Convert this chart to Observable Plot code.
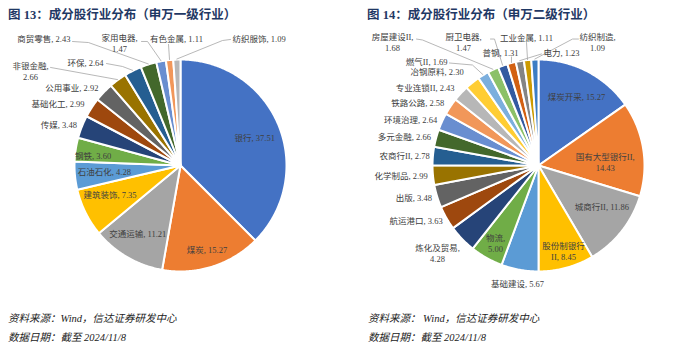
<!DOCTYPE html>
<html><head><meta charset="utf-8">
<script src="https://cdn.jsdelivr.net/npm/d3@7"></script>
<script src="https://cdn.jsdelivr.net/npm/@observablehq/plot@0.6"></script>
<style>
body{margin:0;background:#fff;width:700px;height:351px;overflow:hidden;font-family:"Liberation Serif","Noto Sans CJK SC",serif;}
#wrap{position:relative;width:700px;height:351px;}
.panel{position:absolute;top:0;width:350px;height:351px;}
.title{position:absolute;top:6px;line-height:18px;font-size:12.5px;font-weight:bold;color:#1f3864;white-space:nowrap;}
.chart{position:absolute;left:0;top:28px;}
.foot{position:absolute;line-height:18px;font-size:10.5px;font-style:italic;color:#222;white-space:nowrap;}
</style></head>
<body><div id="wrap">
<div class="panel" id="p13" style="left:0">
  <div class="title" style="left:8px">图 13：成分股行业分布（申万一级行业）</div>
  <div class="chart" id="c13"></div>
  <div class="foot" style="left:8px;top:310px">资料来源：Wind，信达证券研发中心</div>
  <div class="foot" style="left:8px;top:329px">数据日期：截至 2024/11/8</div>
</div>
<div class="panel" id="p14" style="left:350px">
  <div class="title" style="left:17px">图 14：成分股行业分布（申万二级行业）</div>
  <div class="chart" id="c14"></div>
  <div class="foot" style="left:18px;top:310px">资料来源： Wind，信达证券研发中心</div>
  <div class="foot" style="left:18px;top:329px">数据日期：截至 2024/11/8</div>
</div>
</div>
<script>
// ---- data ----
const cats13 = ["银行","煤炭","交通运输","建筑装饰","石油石化","钢铁","传媒","基础化工","公用事业","非银金融","环保","商贸零售","家用电器","有色金属","纺织服饰"];
const vals13 = [37.51,15.27,11.21,7.35,4.28,3.60,3.48,2.99,2.92,2.66,2.64,2.43,1.47,1.11,1.09];
const cats14 = ["煤炭开采","国有大型银行II","城商行II","股份制银行II","基础建设","物流","炼化及贸易","航运港口","出版","化学制品","农商行II","多元金融","环境治理","铁路公路","专业连锁II","冶钢原料","燃气II","房屋建设II","厨卫电器","普钢","电力","工业金属","纺织制造"];
const vals14 = [15.27,14.43,11.86,8.45,5.67,5.00,4.28,3.63,3.48,2.99,2.78,2.66,2.64,2.58,2.43,2.30,1.69,1.68,1.47,1.31,1.23,1.11,1.09];

// ---- styles / layout ----
const palette = ["#4472C4","#ED7D31","#A5A5A5","#FFC000","#5B9BD5","#70AD47","#264478","#9E480E","#636363","#997300","#255E91","#43682B","#698ED0","#F1975A","#B7B7B7","#FFCD33","#7CAFDD","#8CC168","#335AA1","#D26012","#848484","#CC9A00","#3C7DC4"];

// label layout (polar: a = degrees clockwise from top, r in pie radii; free: x,y in pie radii)
const layout13 = [
 {k:"in", r:.75, a:69},
 {k:"in", r:.83},
 {k:"in", r:.76, a:212},
 {k:"in", r:.72, a:247.5},
 {k:"in", r:.72, a:265.5},
 {k:"in", r:.83, a:276.5},
 {k:"out", r:1.05},
 {k:"out", r:1.08},
 {k:"out", r:1.07},
 {k:"free", x:-1.415, y:0.896, anchor:"middle", br:true, lead:[[-1.226,0.925]]},
 {k:"free", x:-0.726, y:0.972, anchor:"end", lead:[[-0.698,0.962],[-0.547,0.934]]},
 {k:"free", x:-1.038, y:1.198, anchor:"end", lead:[[-1.019,1.170],[-0.868,1.160]]},
 {k:"free", x:-0.575, y:1.160, anchor:"middle", br:true, lead:[[-0.368,1.170],[-0.311,1.170]]},
 {k:"free", x:-0.038, y:1.198, anchor:"middle", lead:[[-0.113,1.142]]},
 {k:"free", x:0.491, y:1.198, anchor:"start", lead:[[0.472,1.189],[0.396,1.179]]}
];
const layout14 = [
 {k:"in", r:.74, a:29},
 {k:"in", r:.63, a:87, br:true},
 {k:"in", r:.71, a:122.7},
 {k:"in", r:.84, a:163.7, br:5},
 {k:"in", r:1.13, a:190.1},
 {k:"in", r:.84, a:208.9, br:true},
 {k:"free", x:-0.953, y:-0.821, anchor:"middle", br:true},
 {k:"out", r:1.04},
 {k:"out", r:1.05},
 {k:"out", r:1.05},
 {k:"out", r:1.03},
 {k:"out", r:1.05},
 {k:"out", r:1.05},
 {k:"out", r:1.07},
 {k:"out", r:1.08},
 {k:"out", r:1.13},
 {k:"free", x:-0.858, y:0.986, anchor:"end", lead:[[-0.840,0.967],[-0.623,0.948]]},
 {k:"free", x:-1.377, y:1.165, anchor:"middle", br:true, lead:[[-1.151,1.193],[-1.094,1.184]]},
 {k:"free", x:-0.708, y:1.165, anchor:"middle", br:true, lead:[[-0.453,1.193],[-0.415,1.193]]},
 {k:"free", x:-0.358, y:1.071, anchor:"middle", lead:[[-0.255,1.024]]},
 {k:"free", x:0.047, y:1.071, anchor:"start", lead:[[0.028,1.052]]},
 {k:"free", x:-0.113, y:1.208, anchor:"middle", lead:[[-0.113,1.160]]},
 {k:"free", x:0.557, y:1.165, anchor:"middle", br:true, lead:[[0.377,1.193],[0.321,1.193]]}
];

function labelText(name, v, br) {
  const s = v.toFixed(2);
  if (br === true) return `${name},\n${s}`;
  if (typeof br === "number") return `${name.slice(0, br)}\n${name.slice(br)}, ${s}`;
  return `${name}, ${s}`;
}

function drawPie(el, cats, vals, layout, cx) {
  const R = 106, W = 350, H = 277, CY = 137;
  const arcs = d3.pie().sort(null).value(d => d.v)(cats.map((c, i) => ({c, v: vals[i]})));
  const pts = [];
  arcs.forEach(a => {
    const n = Math.max(2, Math.ceil((a.endAngle - a.startAngle) / 0.01));
    pts.push({name: a.data.c, x: 0, y: 0});
    for (let k = 0; k <= n; k++) {
      const t = a.startAngle + (a.endAngle - a.startAngle) * k / n;
      pts.push({name: a.data.c, x: Math.sin(t), y: Math.cos(t)});
    }
    pts.push({name: a.data.c, x: 0, y: 0});
  });
  const labels = [], leads = [];
  arcs.forEach((a, i) => {
    const L = layout[i];
    const mid = (a.startAngle + a.endAngle) / 2;
    const text = labelText(a.data.c, a.data.v, L.br);
    if (L.k === "free") {
      labels.push({x: L.x, y: L.y, text, anchor: L.anchor});
      if (L.lead) {
        L.lead.forEach(p => leads.push({name: a.data.c, x: p[0], y: p[1]}));
        leads.push({name: a.data.c, x: Math.sin(mid) * 1.005, y: Math.cos(mid) * 1.005});
      }
    } else {
      const t = L.a != null ? L.a * Math.PI / 180 : mid;
      const anchor = L.k === "in" ? "middle" : (t > Math.PI ? "end" : "start");
      labels.push({x: Math.sin(t) * L.r, y: Math.cos(t) * L.r, text, anchor});
    }
  });
  const font = '"Liberation Serif","Noto Sans CJK SC",serif';
  const textMark = anc => Plot.text(labels.filter(d => d.anchor === anc), {
    x: "x", y: "y", text: "text", textAnchor: anc, lineAnchor: "middle",
    fontSize: 8.5, lineHeight: 1.3, fill: "#404040", fontFamily: font
  });
  const chart = Plot.plot({
    width: W, height: H,
    marginTop: 0, marginRight: 0, marginBottom: 0, marginLeft: 0,
    x: {domain: [-cx / R, (W - cx) / R], range: [0, W], axis: null},
    y: {domain: [-(H - CY) / R, CY / R], range: [H, 0], axis: null},
    color: {domain: cats, range: palette.slice(0, cats.length)},
    style: {background: "transparent", overflow: "visible"},
    marks: [
      Plot.line(pts, {x: "x", y: "y", z: "name", fill: "name", stroke: "white", strokeWidth: 2, strokeLinejoin: "round", curve: "linear"}),
      Plot.line(leads, {x: "x", y: "y", z: "name", stroke: "#a6a6a6", strokeWidth: 0.8}),
      textMark("middle"), textMark("start"), textMark("end")
    ]
  });
  document.getElementById(el).appendChild(chart);
}

drawPie("c13", cats13, vals13, layout13, 180);
drawPie("c14", cats14, vals14, layout14, 188);
</script>
</body></html>
